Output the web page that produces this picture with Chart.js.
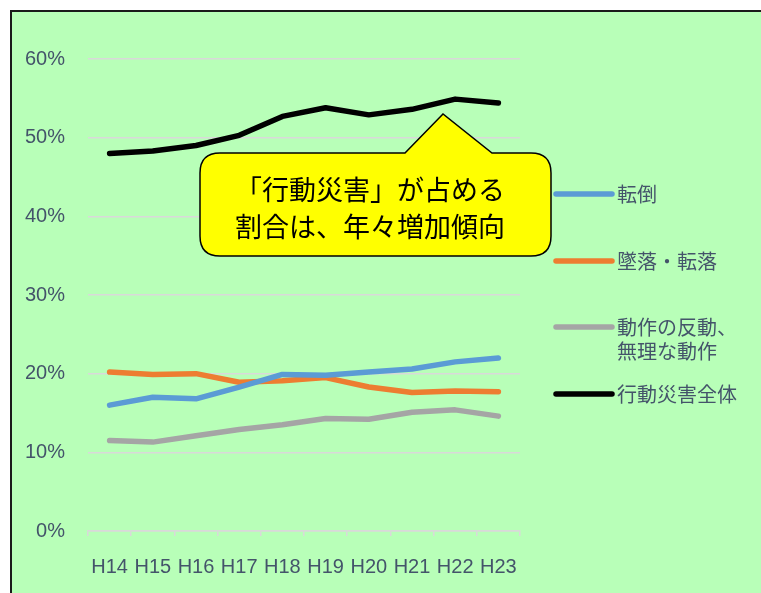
<!DOCTYPE html>
<html>
<head>
<meta charset="utf-8">
<script src="https://cdn.jsdelivr.net/npm/chart.js@4"></script>
<style>
  html, body { margin: 0; padding: 0; background: #fff; overflow: hidden; }
  #frame {
    position: absolute; left: 10px; top: 10px; width: 800px; height: 640px;
    border-left: 2px solid #1a1a1a; border-top: 2px solid #1a1a1a;
    background: #B8FFB8;
  }
  #wrap { position: absolute; left: 0; top: 0; width: 761px; height: 593px; }
</style>
</head>
<body>
<div id="frame"></div>
<div id="wrap"><canvas id="lineChart" width="761" height="593"></canvas></div>
<script>
// years (Heisei)
const years = ['H14', 'H15', 'H16', 'H17', 'H18', 'H19', 'H20', 'H21', 'H22', 'H23'];

// share of accidents, %
const tentou = [16.0, 17.0, 16.8, 18.3, 19.9, 19.8, 20.2, 20.6, 21.5, 22.0];
const tenraku = [20.2, 19.9, 20.0, 18.9, 19.1, 19.5, 18.3, 17.6, 17.8, 17.7];
const handou = [11.5, 11.3, 12.1, 12.9, 13.5, 14.3, 14.2, 15.1, 15.4, 14.6];
const koudouTotal = [48.0, 48.3, 49.0, 50.3, 52.7, 53.8, 52.9, 53.6, 54.9, 54.4];

const seriesNames = [['転倒'], ['墜落・転落'], ['動作の反動、', '無理な動作'], ['行動災害全体']];
const seriesColors = ['#5B9BD5', '#ED7D31', '#A5A5A5', '#000000'];
const yTicks = [0, 10, 20, 30, 40, 50, 60];
const calloutText = ['「行動災害」が占める', '割合は、年々増加傾向'];

const textColor = '#44546A';
const cjkFont = "'Noto Sans CJK JP', 'Noto Sans CJK SC', sans-serif";

Chart.defaults.font.family = "'Liberation Sans', Arial, 'Noto Sans CJK JP', sans-serif";
Chart.defaults.font.size = 20;
Chart.defaults.color = textColor;

// speech bubble
const calloutPlugin = {
    id: 'callout',
    afterDatasetsDraw(chart) {
        const ctx = chart.ctx;
        const x0 = 200, y0 = 153, x1 = 551, y1 = 256, r = 20;
        const tipX = 443, tipY = 114, baseA = 405, baseB = 492;
        ctx.save();
        ctx.beginPath();
        ctx.moveTo(x0 + r, y0);
        ctx.lineTo(baseA, y0);
        ctx.lineTo(tipX, tipY);
        ctx.lineTo(baseB, y0);
        ctx.lineTo(x1 - r, y0);
        ctx.quadraticCurveTo(x1, y0, x1, y0 + r);
        ctx.lineTo(x1, y1 - r);
        ctx.quadraticCurveTo(x1, y1, x1 - r, y1);
        ctx.lineTo(x0 + r, y1);
        ctx.quadraticCurveTo(x0, y1, x0, y1 - r);
        ctx.lineTo(x0, y0 + r);
        ctx.quadraticCurveTo(x0, y0, x0 + r, y0);
        ctx.closePath();
        ctx.fillStyle = '#FFFF00';
        ctx.fill();
        ctx.lineWidth = 1.5;
        ctx.strokeStyle = '#000';
        ctx.stroke();
        ctx.fillStyle = '#000';
        ctx.font = '27px ' + cjkFont;
        ctx.textAlign = 'center';
        ctx.textBaseline = 'middle';
        ctx.fillText(calloutText[0], 370, 190);
        ctx.fillText(calloutText[1], 370, 227);
        ctx.restore();
    }
};

// legend on the right, drawn by hand because of the two-line label
const legendPlugin = {
    id: 'sideLegend',
    afterDraw(chart) {
        const ctx = chart.ctx;
        const rows = [194, 261, 327, 394];
        ctx.save();
        chart.data.datasets.forEach((ds, i) => {
            const y = rows[i];
            ctx.beginPath();
            ctx.moveTo(556, y);
            ctx.lineTo(612, y);
            ctx.lineWidth = 5.5;
            ctx.lineCap = 'round';
            ctx.strokeStyle = ds.borderColor;
            ctx.stroke();
            ctx.fillStyle = textColor;
            ctx.font = '20px ' + cjkFont;
            ctx.textAlign = 'left';
            ctx.textBaseline = 'middle';
            seriesNames[i].forEach((line, k) => {
                ctx.fillText(line, 617, y + k * 24);
            });
        });
        ctx.restore();
    }
};

const ctx = document.getElementById('lineChart').getContext('2d');
const chart = new Chart(ctx, {
    type: 'line',
    data: {
        labels: years,
        datasets: [tentou, tenraku, handou, koudouTotal].map((vals, i) => ({
            label: seriesNames[i].join(''),
            data: vals,
            borderColor: seriesColors[i],
            backgroundColor: seriesColors[i],
            borderWidth: 5.5,
            pointRadius: 0,
            tension: 0,
            borderCapStyle: 'round',
            borderJoinStyle: 'round',
            fill: false,
        }))
    },
    options: {
        responsive: false,
        animation: false,
        layout: { padding: { top: 59, right: 241, bottom: 0, left: 0 } },
        plugins: {
            legend: { display: false },
            tooltip: { enabled: false },
        },
        scales: {
            x: {
                offset: true,
                grid: { offset: true, drawOnChartArea: false, tickLength: 5, color: '#D9D9D9', lineWidth: 1.5 },
                border: { color: '#D9D9D9', width: 1.5 },
                ticks: { padding: 19, maxRotation: 0, autoSkip: false },
                afterFit(scale) { scale.height = 62; }
            },
            y: {
                min: 0,
                max: 60,
                afterBuildTicks(scale) { scale.ticks = yTicks.map(v => ({ value: v })); },
                grid: { drawTicks: false, color: '#D9D9D9', lineWidth: 1.5 },
                border: { display: false },
                ticks: { padding: 23, callback: v => v + '%' },
                afterFit(scale) { scale.width = 88; }
            }
        }
    },
    plugins: [calloutPlugin, legendPlugin]
});
</script>
</body>
</html>
